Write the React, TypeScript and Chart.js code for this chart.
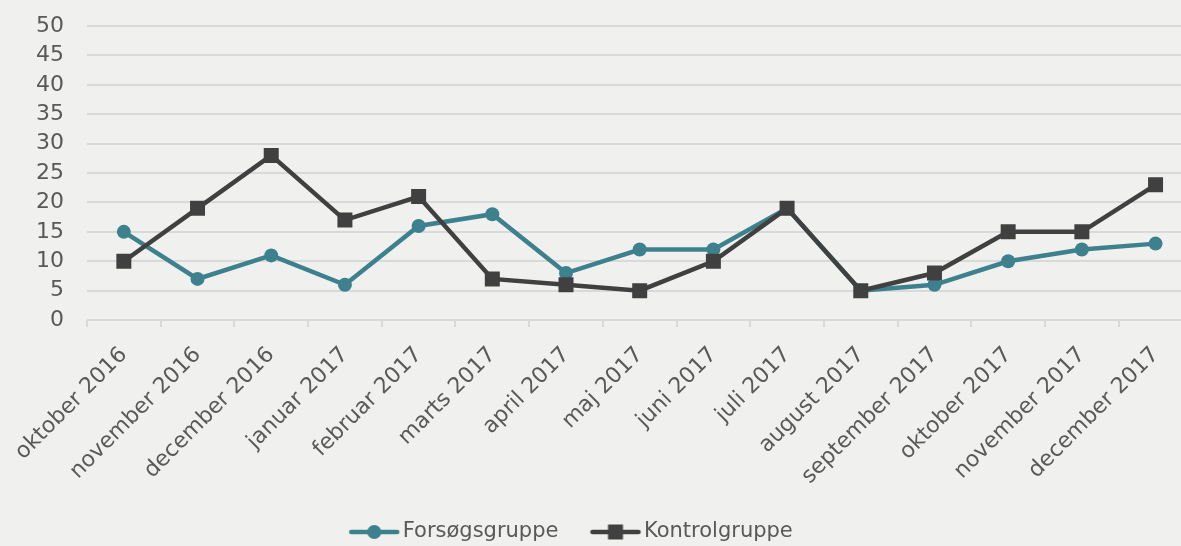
import React, { useEffect, useRef } from "react";
import { Chart, registerables } from "chart.js";

Chart.register(...registerables);

const categories = [
  "oktober 2016",
  "november 2016",
  "december 2016",
  "januar 2017",
  "februar 2017",
  "marts 2017",
  "april 2017",
  "maj 2017",
  "juni 2017",
  "juli 2017",
  "august 2017",
  "september 2017",
  "oktober 2017",
  "november 2017",
  "december 2017",
];
const forsoegValues = [15, 7, 11, 6, 16, 18, 8, 12, 12, 19, 5, 6, 10, 12, 13];
const kontrolValues = [10, 19, 28, 17, 21, 7, 6, 5, 10, 19, 5, 8, 15, 15, 23];
const seriesNames = ["Forsøgsgruppe", "Kontrolgruppe"];
const yMin = 0;
const yMax = 50;
const yStep = 5;

const TEAL = "#3e818e";
const DARK = "#404040";
const TEXT = "#595959";
const GRID = "#d9d9d9";
const BG = "#f0f0ef";
const FONT = "'DejaVu Sans', sans-serif";

const BOX_W = 58;
const MARK_OFF = 15;

function makeLegendImage(color: string, style: "circle" | "rect") {
  const c = document.createElement("canvas");
  c.width = BOX_W * 2;
  c.height = 18;
  const ctx = c.getContext("2d")!;
  const x0 = BOX_W / 2 + MARK_OFF;
  ctx.strokeStyle = color;
  ctx.lineWidth = 4.5;
  ctx.lineCap = "round";
  ctx.beginPath();
  ctx.moveTo(x0 + 2, 9);
  ctx.lineTo(x0 + 48, 9);
  ctx.stroke();
  ctx.fillStyle = color;
  if (style === "circle") {
    ctx.beginPath();
    ctx.arc(x0 + 25, 9, 7, 0, Math.PI * 2);
    ctx.fill();
  } else {
    ctx.fillRect(x0 + 17.5, 1.5, 15, 15);
  }
  return c;
}

export default function App() {
  const ref = useRef<HTMLCanvasElement | null>(null);

  useEffect(() => {
    if (!ref.current) return;
    const imgF = makeLegendImage(TEAL, "circle");
    const imgK = makeLegendImage(DARK, "rect");

    const shiftLegend = {
      id: "shiftLegend",
      afterLayout(chart: any) {
        if (chart.legend) {
          chart.legend.left -= 55;
          chart.legend.right -= 55;
        }
      },
    };

    const chart = new Chart(ref.current, {
      type: "line",
      data: {
        labels: categories,
        datasets: [
          {
            label: seriesNames[0],
            data: forsoegValues,
            borderColor: TEAL,
            backgroundColor: TEAL,
            borderWidth: 4.5,
            pointStyle: "circle",
            pointRadius: 7,
            pointBorderWidth: 0,
            pointBackgroundColor: TEAL,
            tension: 0,
            order: 1,
          },
          {
            label: seriesNames[1],
            data: kontrolValues,
            borderColor: DARK,
            backgroundColor: DARK,
            borderWidth: 4.5,
            pointStyle: "rect",
            pointRadius: 10.6,
            pointBorderWidth: 0,
            pointBackgroundColor: DARK,
            tension: 0,
            order: 0,
          },
        ],
      },
      options: {
        animation: false,
        responsive: false,
        devicePixelRatio: 1,
        layout: { padding: { left: 34, top: 26, right: 0, bottom: 0 } },
        plugins: {
          tooltip: { enabled: false },
          legend: {
            position: "bottom",
            align: "center",
            maxHeight: 41.5,
            labels: {
              usePointStyle: true,
              pointStyleWidth: BOX_W,
              padding: 17,
              color: TEXT,
              font: { family: FONT, size: 21 },
              generateLabels: () => [
                {
                  text: seriesNames[0],
                  pointStyle: imgF as any,
                  fillStyle: TEAL,
                  strokeStyle: TEAL,
                  lineWidth: 0,
                  hidden: false,
                  datasetIndex: 0,
                  fontColor: TEXT,
                },
                {
                  text: seriesNames[1],
                  pointStyle: imgK as any,
                  fillStyle: DARK,
                  strokeStyle: DARK,
                  lineWidth: 0,
                  hidden: false,
                  datasetIndex: 1,
                  fontColor: TEXT,
                },
              ],
            },
          },
        },
        scales: {
          x: {
            offset: true,
            grid: {
              offset: true,
              drawOnChartArea: false,
              drawTicks: true,
              tickLength: 7,
              color: GRID,
              lineWidth: 2,
            },
            border: { display: false },
            ticks: {
              autoSkip: false,
              minRotation: 45,
              maxRotation: 45,
              color: TEXT,
              font: { family: FONT, size: 22 },
              padding: 15,
            },
          },
          y: {
            min: yMin,
            max: yMax,
            grid: {
              color: GRID,
              lineWidth: 2,
              drawTicks: true,
              tickLength: 21,
              tickColor: "rgba(0,0,0,0)",
            },
            border: { display: false },
            ticks: {
              stepSize: yStep,
              autoSkip: false,
              color: TEXT,
              font: { family: FONT, size: 22 },
              padding: 2,
            },
          },
        },
      },
      plugins: [shiftLegend],
    });
    return () => chart.destroy();
  }, []);

  return (
    <div
      style={{
        position: "fixed",
        left: 0,
        top: 0,
        width: 1181,
        height: 546,
        overflow: "hidden",
        background: BG,
      }}
    >
      <canvas ref={ref} width={1203} height={546} style={{ display: "block" }} />
    </div>
  );
}
